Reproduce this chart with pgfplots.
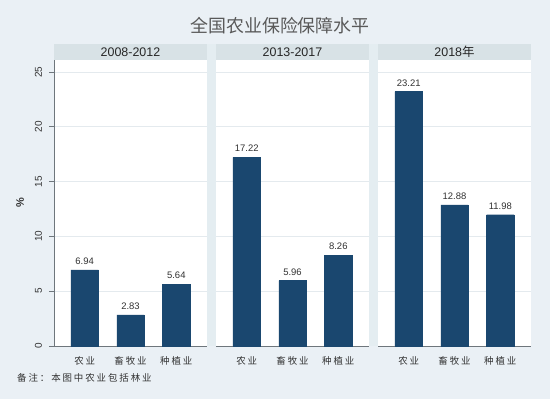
\documentclass[border=0pt]{standalone}
\usepackage{pgfplots}
\pgfplotsset{compat=1.18}
\usepackage{fontspec}
\setmainfont{Liberation Sans}
\newfontfamily\cjk{Noto Sans CJK SC}
\newfontfamily\cjksp[LetterSpace=20]{Noto Sans CJK SC}
\definecolor{bgc}{RGB}{234,240,245}
\definecolor{gapc}{RGB}{228,237,241}
\definecolor{hdrc}{RGB}{216,226,230}
\definecolor{barc}{RGB}{26,71,111}
\definecolor{gridc}{RGB}{228,234,238}
\definecolor{axc}{RGB}{110,118,124}
\definecolor{txtc}{RGB}{50,50,50}
\pgfplotsset{
  panel/.style={
    at={(#1bp,-346bp)}, anchor=south west,
    scale only axis, width=153bp, height=286bp,
    ymin=0, ymax=26.1, xmin=0.33, xmax=3.67,
    ybar, bar width=0.6, bar shift=0pt,
    axis background/.style={fill=white},
    axis x line*=bottom, axis y line*=left,
    axis line style={color=axc, line width=0.8bp},
    ytick={0,5,10,15,20,25},
    ymajorgrids, grid style={color=gridc, line width=0.7bp},
    tick align=outside, major tick length=5bp,
    y tick style={color=axc, line width=0.8bp},
    xtick={1,2,3}, x tick style={draw=none},
    xticklabels={农业,畜牧业,种植业},
    xticklabel style={font=\cjksp\fontsize{9.5}{10}\selectfont, text=txtc, yshift=-2bp},
    yticklabel style={font=\fontsize{10}{11}\selectfont, text=txtc, rotate=90, anchor=south, yshift=3.5bp},
    /pgf/number format/assume math mode=true,
    nodes near coords={\pgfmathprintnumber[fixed,fixed zerofill,precision=2]{\pgfplotspointmeta}},
    every node near coord/.append style={font=\fontsize{9.5}{10}\selectfont, text=txtc, yshift=2bp},
  },
  hidey/.style={yticklabels={}, y axis line style={draw=none}, y tick style={draw=none}},
}
\begin{document}
\begin{tikzpicture}
\fill[bgc] (0,0) rectangle (550bp,-399bp);
\fill[gapc] (54bp,-44bp) rectangle (531bp,-346bp);
\fill[hdrc] (54bp,-44bp) rectangle (207bp,-60bp);
\fill[hdrc] (216bp,-44bp) rectangle (369bp,-60bp);
\fill[hdrc] (378bp,-44bp) rectangle (531bp,-60bp);
\node[font=\fontsize{12.5}{13}\selectfont, text=black!85] at (130.5bp,-52bp) {2008-2012};
\node[font=\fontsize{12.5}{13}\selectfont, text=black!85] at (292.5bp,-52bp) {2013-2017};
\node[font=\fontsize{12.5}{13}\selectfont, text=black!85] at (454.5bp,-52bp) {2018{\cjk 年}};
\node[font=\cjk\fontsize{18}{20}\selectfont, text=black!65] at (280bp,-26bp) {全国农业保险保障水平};
\node[font=\cjksp\fontsize{9.5}{10}\selectfont, text=txtc, anchor=west, inner sep=0pt] at (17bp,-378bp) {备注：本图中农业包括林业};
\node[font=\bfseries\fontsize{11}{12}\selectfont, text=txtc, rotate=90] at (20bp,-203bp) {\%};

\begin{axis}[panel=54]
\addplot[fill=barc, draw=barc] coordinates {(1,6.94) (2,2.83) (3,5.64)};
\end{axis}
\begin{axis}[panel=216, hidey]
\addplot[fill=barc, draw=barc] coordinates {(1,17.22) (2,5.96) (3,8.26)};
\end{axis}
\begin{axis}[panel=378, hidey]
\addplot[fill=barc, draw=barc] coordinates {(1,23.21) (2,12.88) (3,11.98)};
\end{axis}
\end{tikzpicture}
\end{document}
